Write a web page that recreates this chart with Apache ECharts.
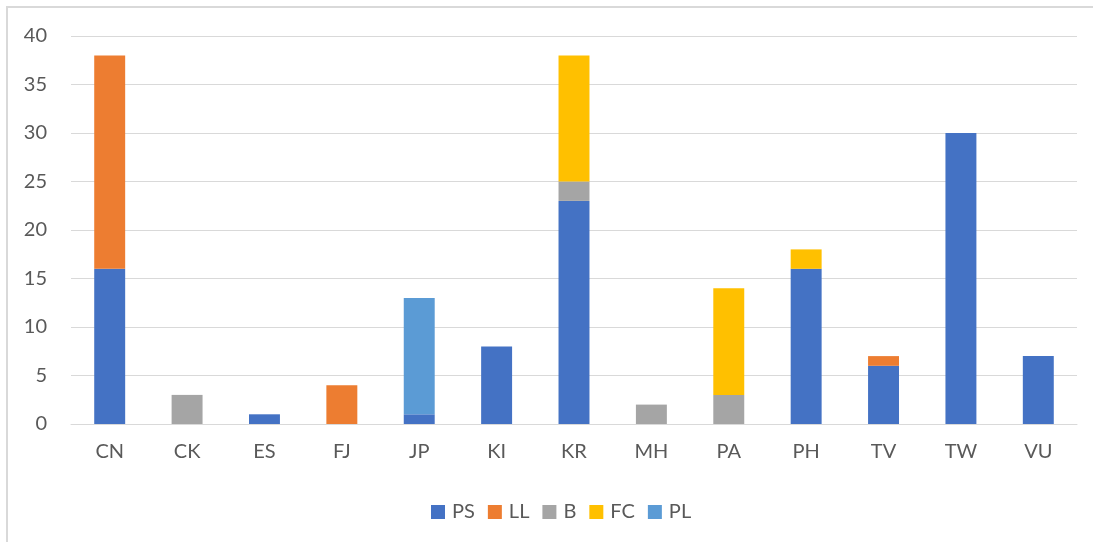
<!DOCTYPE html>
<html>
<head>
<meta charset="utf-8">
<script src="https://cdn.jsdelivr.net/npm/echarts@6/dist/echarts.min.js"></script>
<style>
html,body{margin:0;padding:0;background:#fff;}
#frame{position:absolute;left:6px;top:6px;width:2000px;height:2000px;border:2px solid #d9d9d9;box-sizing:border-box;}
#main{position:absolute;left:0;top:0;width:1093px;height:542px;}
</style>
</head>
<body>
<div id="frame"></div>
<div id="main"></div>
<script>
const categories = ['CN','CK','ES','FJ','JP','KI','KR','MH','PA','PH','TV','TW','VU'];
const PS = [16, 0, 1, 0, 1, 8, 23, 0, 0, 16, 6, 30, 7];
const LL = [22, 0, 0, 4, 0, 0, 0, 0, 0, 0, 1, 0, 0];
const B  = [0, 3, 0, 0, 0, 0, 2, 2, 3, 0, 0, 0, 0];
const FC = [0, 0, 0, 0, 0, 0, 13, 0, 11, 2, 0, 0, 0];
const PL = [0, 0, 0, 0, 12, 0, 0, 0, 0, 0, 0, 0, 0];
const yTicks = [0, 5, 10, 15, 20, 25, 30, 35, 40];

const seriesDefs = [
  {name:'PS', data:PS, color:'#4472C4'},
  {name:'LL', data:LL, color:'#ED7D31'},
  {name:'B',  data:B,  color:'#A5A5A5'},
  {name:'FC', data:FC, color:'#FFC000'},
  {name:'PL', data:PL, color:'#5B9BD5'}
];
const font = 'Lato, "Liberation Sans", sans-serif';
const chart = echarts.init(document.getElementById('main'));
chart.setOption({
  animation:false,
  textStyle:{fontFamily:font},
  grid:{left:71, right:16, top:36, bottom:118},
  legend:{
    data:seriesDefs.map(s=>s.name),
    left:426, top:497,
    itemWidth:14, itemHeight:14, itemGap:13,
    icon:'rect',
    textStyle:{fontFamily:font, fontSize:20, color:'#595959', padding:[0,0,0,2]}
  },
  xAxis:{
    type:'category', data:categories,
    axisLine:{lineStyle:{color:'#d9d9d9', width:1}},
    axisTick:{show:false},
    axisLabel:{fontFamily:font, fontSize:20, color:'#595959', margin:18}
  },
  yAxis:{
    type:'value', min:yTicks[0], max:yTicks[yTicks.length-1], interval:yTicks[1]-yTicks[0],
    axisLine:{show:false}, axisTick:{show:false},
    splitLine:{lineStyle:{color:'#d9d9d9', width:1}},
    axisLabel:{fontFamily:font, fontSize:20, color:'#595959', margin:24}
  },
  series:seriesDefs.map(s=>({
    name:s.name, type:'bar', stack:'total', data:s.data,
    barWidth:'40%', itemStyle:{color:s.color}
  }))
});
</script>
</body>
</html>
